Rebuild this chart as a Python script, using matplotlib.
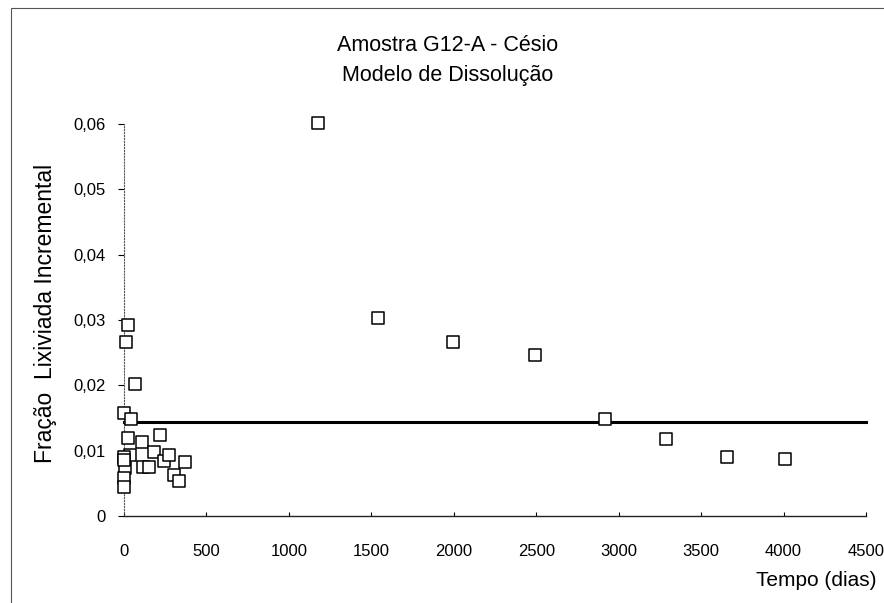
import matplotlib
matplotlib.use("Agg")
import matplotlib.pyplot as plt
from matplotlib.ticker import FuncFormatter, MultipleLocator
from matplotlib.patches import Rectangle

plt.rcParams['font.family'] = ['Liberation Sans', 'DejaVu Sans']

# Data
tempo = [26, 12, 67, 0, 40, 26, 107, 218, 36, 0, 6, 117, 153, 184, 242, 272,
         370, 303, 335, 0, 0, 0,
         1176, 1539, 1994, 2491, 2915, 3285, 3655, 4006]
fracao = [0.0292, 0.0266, 0.0202, 0.0157, 0.0148, 0.0120, 0.0114, 0.0124,
          0.0093, 0.0091, 0.0073, 0.0075, 0.0075, 0.0098, 0.0084, 0.0093,
          0.0082, 0.0062, 0.0054, 0.0058, 0.0045, 0.0085,
          0.0602, 0.0303, 0.0266, 0.0247, 0.0148, 0.0118, 0.0090, 0.0087]
modelo_x = [0, 4500]
modelo_y = [0.0144, 0.0144]

titulo = "Amostra G12-A - Césio\nModelo de Dissolução"
xlabel = "Tempo (dias)"
ylabel = "Fração  Lixiviada Incremental"

fig = plt.figure(figsize=(8.84, 6.03), dpi=100)
ax = fig.add_axes([0.1403, 0.1443, 0.8393, 0.6501])

ax.plot(modelo_x, modelo_y, color='black', lw=2.2, zorder=2, clip_on=False)
ax.scatter(tempo, fracao, marker='s', s=70, facecolors='white',
           edgecolors='black', linewidths=1.1, zorder=3, clip_on=False)

ax.set_xlim(0, 4500)
ax.set_ylim(0, 0.06)
ax.xaxis.set_major_locator(MultipleLocator(500))
ax.yaxis.set_major_locator(MultipleLocator(0.01))
ax.yaxis.set_major_formatter(FuncFormatter(
    lambda v, p: "0" if abs(v) < 1e-12 else f"{v:.2f}".replace('.', ',')))

for s in ['top', 'right']:
    ax.spines[s].set_visible(False)
ax.spines['left'].set_linestyle(':')
ax.spines['left'].set_color('#555555')
ax.spines['bottom'].set_color('#222222')
ax.spines['bottom'].set_linewidth(1.0)
ax.tick_params(axis='x', direction='in', length=3, labelsize=12, pad=20)
ax.tick_params(axis='y', direction='out', length=4, labelsize=12, pad=9)

fig.text(0.506, 0.9, titulo, ha='center', va='center', fontsize=15.5,
         linespacing=1.55)
fig.text(0.923, 0.037, xlabel, ha='center', va='center', fontsize=15)
fig.text(0.052, 0.48, ylabel, ha='center', va='center', rotation=90,
         fontsize=16.5)

fig.patches.append(Rectangle((0.012, -0.01), 1.0, 0.997, transform=fig.transFigure,
                             fill=False, edgecolor='#555555', lw=0.8))

fig.savefig("out.png", dpi=100)
